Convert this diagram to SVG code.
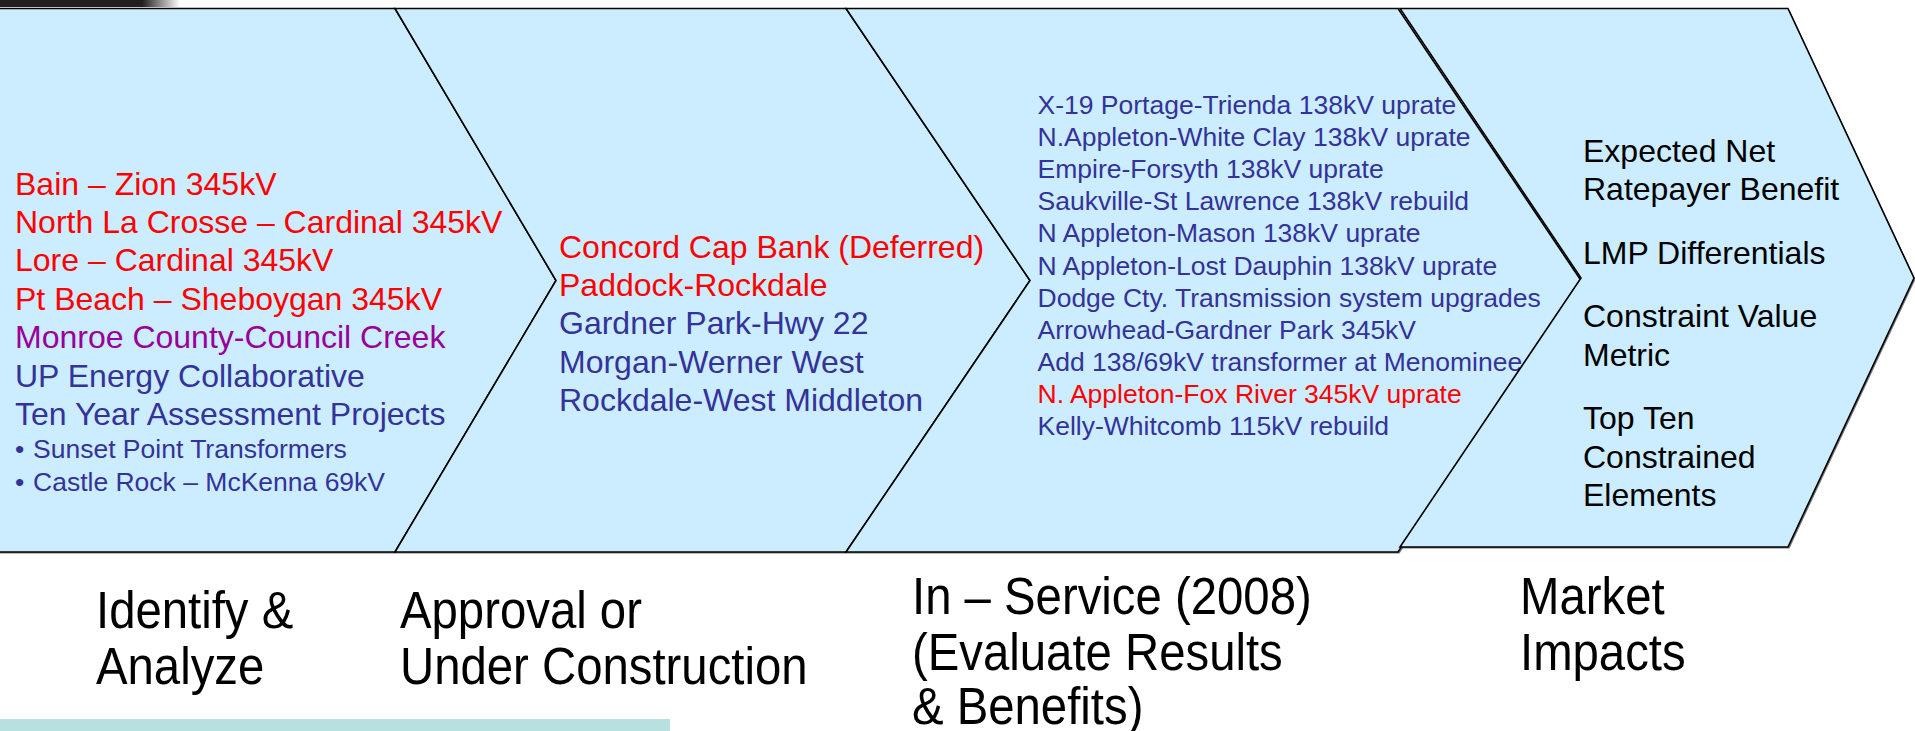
<svg xmlns="http://www.w3.org/2000/svg" width="1915" height="731" viewBox="0 0 1915 731">
<defs>
<linearGradient id="topbar" x1="0" y1="0" x2="1" y2="0">
<stop offset="0" stop-color="#231f20"/>
<stop offset="0.79" stop-color="#231f20"/>
<stop offset="1" stop-color="#ffffff"/>
</linearGradient>
<style>
.chev{fill:#ccecff;stroke:#000;stroke-width:1.6;stroke-linejoin:miter}
.shadow{fill:#7a7a7a}
text{font-family:"Liberation Sans",Arial,Helvetica,sans-serif}
.t32{font-size:32px}
.t26{font-size:26.5px}
.red{fill:#ff0000}
.pur{fill:#990099}
.blu{fill:#333399}
.blk{fill:#000}
.lbl{font-size:52px;fill:#000}
</style>
</defs>
<rect x="0" y="0" width="1915" height="731" fill="#ffffff"/>
<rect x="0" y="0" width="180" height="7" fill="url(#topbar)"/>
<rect x="0" y="719" width="670" height="12" fill="#b9e0e1"/>

<g id="shadows">
<polygon class="shadow" points="-10,10 396.5,10 557.5,282 396.5,553.5 -10,553.5"/>
<polygon class="shadow" points="396.5,10 847.5,10 1031.5,282 847.5,553.5 396.5,553.5 557.5,282"/>
<polygon class="shadow" points="847.5,10 1399.5,10 1582.5,282 1399.5,553.5 847.5,553.5 1031.5,282"/>
<polygon class="shadow" points="1401.5,10 1789.5,10 1915.5,279.5 1789.5,548.5 1401.5,548.5 1582.5,279.5"/>
</g>

<g id="node-identify">
<polygon class="chev" points="-10,8.5 395,8.5 556,280.5 395,552 -10,552"/>
<text class="t32 red" x="15" y="194.5">Bain – Zion 345kV</text>
<text class="t32 red" x="15" y="232.9">North La Crosse – Cardinal 345kV</text>
<text class="t32 red" x="15" y="271.3">Lore – Cardinal 345kV</text>
<text class="t32 red" x="15" y="309.7">Pt Beach – Sheboygan 345kV</text>
<text class="t32 pur" x="15" y="348.1">Monroe County-Council Creek</text>
<text class="t32 blu" x="15" y="386.5">UP Energy Collaborative</text>
<text class="t32 blu" x="15" y="424.9">Ten Year Assessment Projects</text>
<text class="t26 blu" x="15" y="458">•</text>
<text class="t26 blu" x="33" y="458">Sunset Point Transformers</text>
<text class="t26 blu" x="15" y="491">•</text>
<text class="t26 blu" x="33" y="491">Castle Rock – McKenna 69kV</text>
</g>

<g id="node-approval">
<polygon class="chev" points="395,8.5 846,8.5 1030,280.5 846,552 395,552 556,280.5"/>
<text class="t32 red" x="559" y="257.5">Concord Cap Bank (Deferred)</text>
<text class="t32 red" x="559" y="295.9">Paddock-Rockdale</text>
<text class="t32 blu" x="559" y="334.3">Gardner Park-Hwy 22</text>
<text class="t32 blu" x="559" y="372.7">Morgan-Werner West</text>
<text class="t32 blu" x="559" y="411.1">Rockdale-West Middleton</text>
</g>

<g id="node-inservice">
<polygon class="chev" points="846,8.5 1398,8.5 1581,280.5 1398,552 846,552 1030,280.5"/>
<text class="t26 blu" x="1037.5" y="114">X-19 Portage-Trienda 138kV uprate</text>
<text class="t26 blu" x="1037.5" y="146.1">N.Appleton-White Clay 138kV uprate</text>
<text class="t26 blu" x="1037.5" y="178.2">Empire-Forsyth 138kV uprate</text>
<text class="t26 blu" x="1037.5" y="210.3">Saukville-St Lawrence 138kV rebuild</text>
<text class="t26 blu" x="1037.5" y="242.4">N Appleton-Mason 138kV uprate</text>
<text class="t26 blu" x="1037.5" y="274.5">N Appleton-Lost Dauphin 138kV uprate</text>
<text class="t26 blu" x="1037.5" y="306.6">Dodge Cty. Transmission system upgrades</text>
<text class="t26 blu" x="1037.5" y="338.7">Arrowhead-Gardner Park 345kV</text>
<text class="t26 blu" x="1037.5" y="370.8">Add 138/69kV transformer at Menominee</text>
<text class="t26 red" x="1037.5" y="402.9">N. Appleton-Fox River 345kV uprate</text>
<text class="t26 blu" x="1037.5" y="435">Kelly-Whitcomb 115kV rebuild</text>
</g>

<g id="node-market">
<polygon class="chev" points="1400,8.5 1788,8.5 1914,278 1788,547 1400,547 1581,278"/>
<text class="t32 blk" x="1583" y="161.5">Expected Net</text>
<text class="t32 blk" x="1583" y="200">Ratepayer Benefit</text>
<text class="t32 blk" x="1583" y="263.5">LMP Differentials</text>
<text class="t32 blk" x="1583" y="327">Constraint Value</text>
<text class="t32 blk" x="1583" y="365.5">Metric</text>
<text class="t32 blk" x="1583" y="429">Top Ten</text>
<text class="t32 blk" x="1583" y="467.5">Constrained</text>
<text class="t32 blk" x="1583" y="506">Elements</text>
</g>

<g id="connectors"></g>

<g id="labels">
<text class="lbl" transform="translate(96,628) scale(0.91,1)">Identify &amp;</text>
<text class="lbl" transform="translate(96,684) scale(0.91,1)">Analyze</text>
<text class="lbl" transform="translate(400,628) scale(0.91,1)">Approval or</text>
<text class="lbl" transform="translate(400,684) scale(0.91,1)">Under Construction</text>
<text class="lbl" transform="translate(912,614) scale(0.91,1)">In – Service (2008)</text>
<text class="lbl" transform="translate(912,670) scale(0.91,1)">(Evaluate Results</text>
<text class="lbl" transform="translate(912,724) scale(0.91,1)">&amp; Benefits)</text>
<text class="lbl" transform="translate(1520,614) scale(0.91,1)">Market</text>
<text class="lbl" transform="translate(1520,670) scale(0.91,1)">Impacts</text>
</g>
</svg>
